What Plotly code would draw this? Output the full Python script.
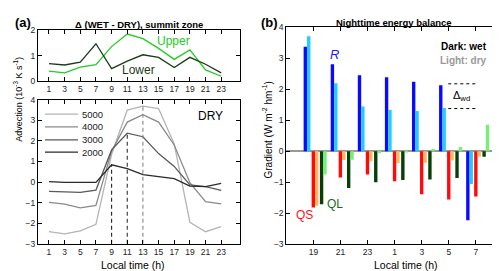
import plotly.graph_objects as go

# ---------------- data ----------------
hours = [1, 3, 5, 7, 9, 11, 13, 15, 17, 19, 21, 23]
upper = [0.39, 0.32, 0.55, 0.64, 1.35, 1.84, 1.66, 1.28, 0.85, 1.22, 0.44, 0.19]
lower = [0.68, 0.63, 0.74, 1.46, 0.49, 0.78, 1.03, 0.93, 0.53, 0.93, 0.66, 0.32]

dry5000 = [-2.41, -2.52, -2.37, -2.05, 1.35, 3.49, 3.69, 3.57, 1.85, -1.95, -2.41, -2.16]
dry4000 = [-0.99, -1.07, -1.25, -1.13, 1.50, 2.91, 3.27, 2.91, 1.80, -0.03, -0.95, -1.06]
dry3000 = [-0.45, -0.47, -0.50, -0.39, 1.56, 2.37, 2.20, 1.38, 0.76, -0.14, -0.22, -0.40]
dry2000 = [0.02, -0.02, -0.02, -0.02, 0.84, 0.65, 0.36, 0.27, 0.17, -0.20, -0.22, -0.06]

night_hours = ["19", "21", "23", "1", "3", "5", "7"]
R_wet = [3.38, 2.81, 2.46, 2.39, 2.25, 2.13, -2.23]
R_dry = [3.72, 2.20, 1.45, 1.33, 1.30, 1.40, -1.06]
QS_wet = [-1.82, -0.85, -0.75, -0.97, -1.39, -1.56, -1.46]
QS_dry = [-1.76, -0.28, -0.32, -0.38, -0.37, -0.30, -0.17]
QL_wet = [-1.71, -1.19, -1.00, -0.93, -0.91, -0.86, -0.18]
QL_dry = [-0.75, -0.27, -0.06, -0.02, 0.07, 0.14, 0.86]

FONT = "Liberation Sans, Arial, Helvetica, sans-serif"
W, H = 500, 271

fig = go.Figure()

# ---- panel (a) top ----
fig.add_trace(go.Scatter(x=hours, y=upper, mode="lines", line=dict(color="#22cc22", width=1.3),
                         xaxis="x", yaxis="y", showlegend=False))
fig.add_trace(go.Scatter(x=hours, y=lower, mode="lines", line=dict(color="#1c3a1c", width=1.3),
                         xaxis="x", yaxis="y", showlegend=False))

# ---- panel (a) bottom ----
series = [("5000", dry5000, "#b4b4b4"), ("4000", dry4000, "#8a8a8a"),
          ("3000", dry3000, "#5a5a5a"), ("2000", dry2000, "#2a2a2a")]
for name, vals, col in series:
    fig.add_trace(go.Scatter(x=hours, y=vals, mode="lines", name=name,
                             line=dict(color=col, width=1.3),
                             xaxis="x2", yaxis="y2", showlegend=False))

# dashed verticals at peaks
for h, vals, col in [(9, dry2000, "#222222"), (11, dry3000, "#333333"), (13, dry5000, "#888888")]:
    i = hours.index(h)
    fig.add_trace(go.Scatter(x=[h, h], y=[-3, vals[i]], mode="lines",
                             line=dict(color=col, width=1.1, dash="4px,3px"),
                             xaxis="x2", yaxis="y2", showlegend=False))

# ---- panel (b) bars ----
idx = list(range(len(night_hours)))
bw = 0.125
bars = [(R_wet, "#0a0aff", -0.36), (R_dry, "#22ccff", -0.235),
        (QS_wet, "#ff0a0a", -0.065), (QS_dry, "#ffb566", 0.06),
        (QL_wet, "#064006", 0.24), (QL_dry, "#77ee77", 0.365)]
for vals, col, off in bars:
    fig.add_trace(go.Bar(x=idx, y=vals, width=bw, offset=off, marker=dict(color=col, line=dict(width=0)),
                         xaxis="x3", yaxis="y3", showlegend=False))

ax_common = dict(showline=True, linecolor="black", linewidth=1, mirror="ticks",
                 ticks="inside", ticklen=4, tickcolor="black", tickwidth=1,
                 showgrid=False, zeroline=False, tickfont=dict(size=8.5, family=FONT, color="#222"))

fig.update_layout(
    width=W, height=H,
    margin=dict(l=0, r=0, t=0, b=0),
    paper_bgcolor="white", plot_bgcolor="white",
    font=dict(family=FONT, color="black"),
    barmode="overlay",
    showlegend=False,
    xaxis=dict(domain=[0.06, 0.464], range=[-0.4, 25.4], tickvals=hours, anchor="y", **ax_common),
    yaxis=dict(domain=[0.739, 0.935], range=[0, 2], tickvals=[0, 1, 2], anchor="x", **ax_common),
    xaxis2=dict(domain=[0.06, 0.464], range=[-0.4, 25.4], tickvals=hours, anchor="y2", **ax_common),
    yaxis2=dict(domain=[0.1155, 0.668], range=[-3, 4], tickvals=list(range(-3, 5)), anchor="x2", **ax_common),
    xaxis3=dict(domain=[0.5566, 0.99], range=[-1, 7], tickvals=idx, ticktext=night_hours, anchor="y3", **ax_common),
    yaxis3=dict(domain=[0.1144, 0.9446], range=[-3, 4], tickvals=list(range(-3, 5)), anchor="x3", **ax_common),
)
fig.update_layout(yaxis3=dict(zeroline=True, zerolinecolor="#999999", zerolinewidth=1.5))


def pann(text, x, y, size, color="black", xanchor="center", angle=0):
    fig.add_annotation(text=text, x=x / W, y=1 - y / H, xref="paper", yref="paper",
                       xanchor=xanchor, yanchor="middle", showarrow=False, textangle=angle,
                       font=dict(size=size, color=color, family=FONT))


pann("<b>(a)</b>", 5, 10, 13, xanchor="left")
pann("<b>(b)</b>", 251, 10, 13, xanchor="left")
pann("<b>Δ (WET - DRY), summit zone</b>", 131, 12, 9.5)
pann("<b>Nighttime energy balance</b>", 386, 10, 9.5)
pann("Local time (h)", 125, 262, 10.5)
pann("Local time (h)", 398, 262, 10.5)
pann("<b>Dark: wet</b>", 481, 35, 10, xanchor="right")
pann("<b>Light: dry</b>", 481, 49, 10, color="#999999", xanchor="right")
pann("Advection (10<sup>-3</sup> K s<sup>-1</sup>)", 10, 90, 9, angle=-90)
pann("Gradient (W m<sup>-2</sup> hm<sup>-1</sup>)", 259, 121, 10, angle=-90)

# manual legend for panel (a) bottom
leg_y = [105, 118.3, 131.7, 144.5]
for (name, vals, col), yy in zip(series, leg_y):
    fig.add_shape(type="line", x0=37 / W, x1=70 / W, y0=1 - yy / H, y1=1 - yy / H,
                  xref="paper", yref="paper", line=dict(color=col, width=1.3))
    pann(name, 72, yy, 9.5, color="#222222", xanchor="left")

# data-anchored labels
fig.add_annotation(text="Upper", x=16.9, y=1.57, xref="x", yref="y", showarrow=False,
                   font=dict(size=12, color="#22cc22", family=FONT))
fig.add_annotation(text="Lower", x=12.4, y=0.44, xref="x", yref="y", showarrow=False,
                   font=dict(size=12, color="#1c3a1c", family=FONT))
fig.add_annotation(text="DRY", x=21.6, y=3.22, xref="x2", yref="y2", showarrow=False,
                   font=dict(size=12, color="black", family=FONT))
fig.add_annotation(text="<i>R</i>", x=0.79, y=3.13, xref="x3", yref="y3", showarrow=False,
                   font=dict(size=13, color="#1a1aff", family=FONT))
fig.add_annotation(text="QS", x=-0.31, y=-2.07, xref="x3", yref="y3", showarrow=False,
                   font=dict(size=12, color="#ff1010", family=FONT))
fig.add_annotation(text="QL", x=0.78, y=-1.7, xref="x3", yref="y3", showarrow=False,
                   font=dict(size=12, color="#1a6a1a", family=FONT))
fig.add_annotation(text="Δ<sub>wd</sub>", x=5.45, y=1.8, xref="x3", yref="y3", showarrow=False,
                   font=dict(size=11, color="black", family=FONT))
for yy in [2.18, 1.38]:
    fig.add_shape(type="line", x0=4.98, x1=6.05, y0=yy, y1=yy, xref="x3", yref="y3",
                  line=dict(color="black", width=1, dash="dot"))

fig.write_html("out.html")
